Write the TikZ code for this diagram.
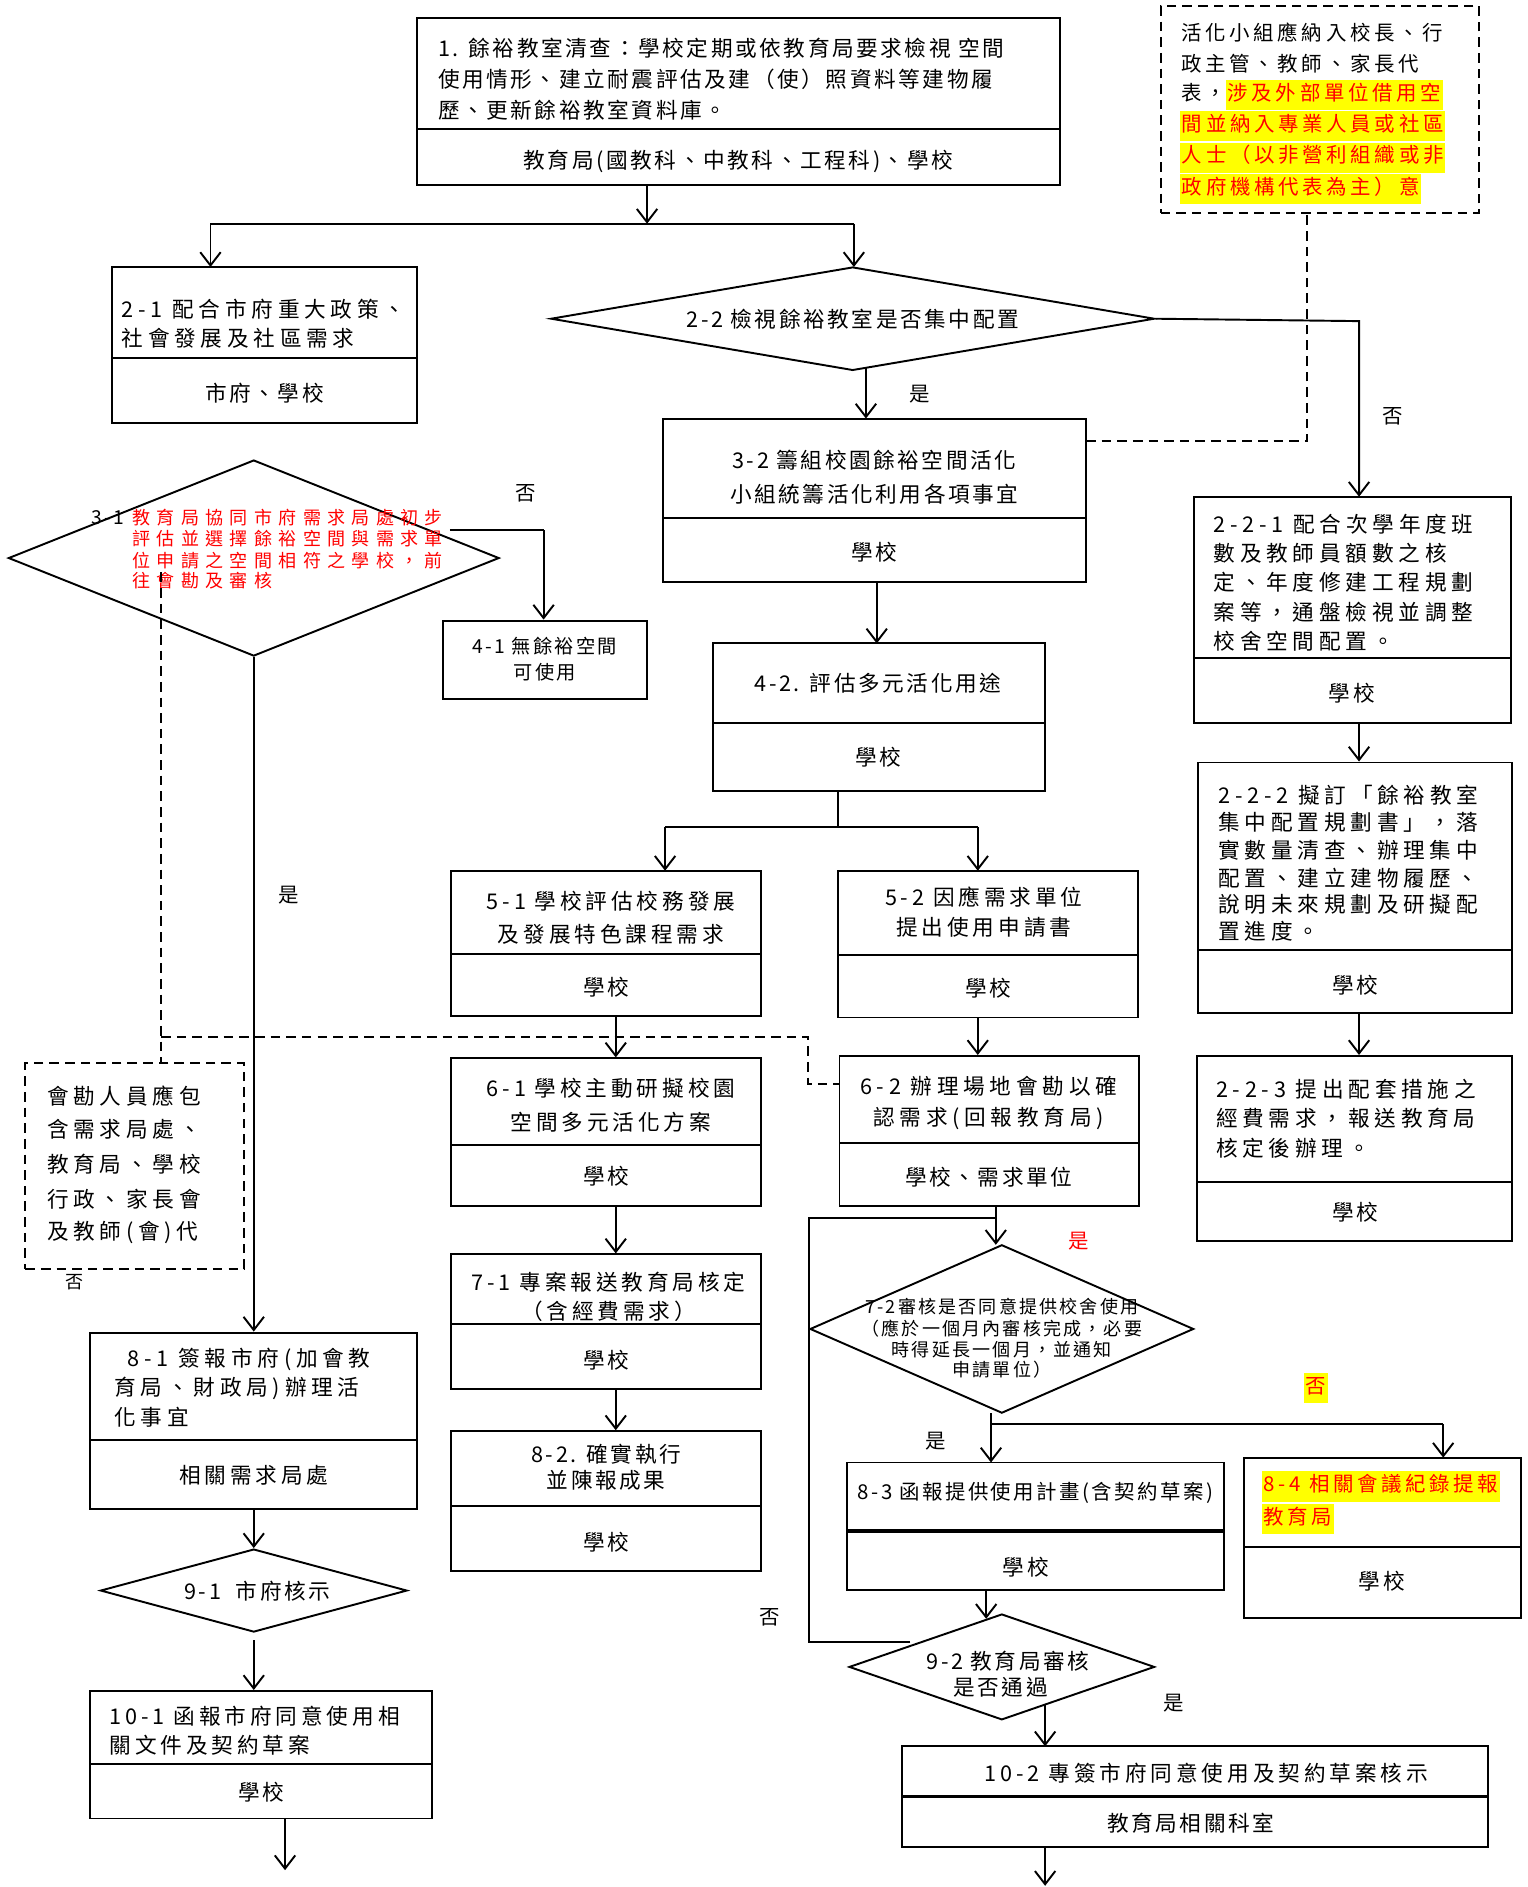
\documentclass[tikz,border=0pt]{standalone}
\usepackage{fontspec}
\setmainfont{Liberation Serif}
\newfontfamily\cjk[LetterSpace=12]{Noto Sans CJK TC}
\newfontfamily\cjks[LetterSpace=18]{Noto Sans CJK TC}
\newfontfamily\cjkm[LetterSpace=22]{Noto Sans CJK TC}
\newfontfamily\cjkw[LetterSpace=35]{Noto Sans CJK TC}
\usetikzlibrary{arrows.meta,shapes.geometric,calc}
\definecolor{hlyellow}{RGB}{255,255,0}
\definecolor{hlred}{RGB}{255,0,0}
\newcommand{\hl}[1]{{\setlength{\fboxsep}{1.5pt}\colorbox{hlyellow}{\strut\textcolor{hlred}{#1}}}}
\newcommand{\tbox}[6]{%
  \node[boxsty, minimum width={(#4)-(#2)}, minimum height={(#6)-(#3)}] (#1) at ({((#2)+(#4))/2},{((#3)+(#6))/2}) {};
  \draw[ln] (#2,#5) -- (#4,#5);}
\tikzset{
  boxsty/.style={draw, line width=1.6pt, inner sep=0pt},
  dashbox/.style={draw, line width=1.6pt, dash pattern=on 8pt off 5pt, inner sep=0pt},
  dia/.style={draw, diamond, line width=1.6pt, inner sep=0pt},
  ln/.style={line width=1.6pt},
  dl/.style={line width=1.6pt, dash pattern=on 8pt off 5pt},
  arr/.style={line width=1.6pt, -{Straight Barb[length=11pt,width=17pt]}},
  tx/.style={inner sep=0pt, font=\cjk\fontsize{18}{22}\selectfont},
  txl/.style={tx, anchor=west},
  txs/.style={inner sep=0pt, font=\cjks\fontsize{18}{22}\selectfont},
  txm/.style={inner sep=0pt, font=\cjkm\fontsize{18}{22}\selectfont},
  txml/.style={txm, anchor=west},
  txsl/.style={txs, anchor=west},
  sm/.style={inner sep=0pt, font=\cjk\fontsize{16}{20}\selectfont},
  yn/.style={inner sep=0pt, font=\cjk\fontsize{17}{20}\selectfont},
  red31/.style={inner sep=0pt, anchor=west, text=hlred, font=\cjkw\fontsize{15}{18}\selectfont},
  dtxt/.style={inner sep=0pt, anchor=west, font=\cjks\fontsize{17}{22}\selectfont},
  q72/.style={inner sep=0pt, font=\cjk\fontsize{15}{18}\selectfont},
}
\begin{document}
\begin{tikzpicture}[x=1pt,y=-1pt]
\useasboundingbox (0,0) rectangle (1270,1569);

% ---------- boxes ----------
\tbox{b1}{347}{15}{881}{107}{154}
\tbox{b21}{93}{222}{347}{298}{352}
\tbox{b32}{551}{348}{903}{431}{484}
\tbox{b221}{993}{413}{1256}{547}{601}
\tbox{b222}{996}{634}{1257}{790}{842}
\tbox{b223}{995}{878}{1257}{983}{1032}
\tbox{b42}{593}{535}{869}{601}{658}
\tbox{b51}{375}{724}{633}{793}{845}
\tbox{b52}{697}{724}{946}{794}{846}
\tbox{b61}{375}{880}{633}{952}{1003}
\tbox{b62}{698}{878}{947}{950}{1003}
\tbox{b71}{375}{1043}{633}{1101}{1155}
\tbox{b82}{375}{1190}{633}{1252}{1306}
\tbox{b81}{75}{1108}{347}{1197}{1255}
\tbox{b101}{75}{1406}{359}{1467}{1512}
\tbox{b83}{704}{1216}{1018}{1273}{1322}
\tbox{b84}{1034}{1212}{1265}{1286}{1345}
\tbox{b102}{750}{1452}{1237}{1494}{1536}
\draw[line width=3pt] (704,1273) -- (1018,1273);
\draw[line width=2.6pt] (750,1494) -- (1237,1494);
\node[boxsty, minimum width=170, minimum height=65] (b41) at (453,548.5) {};

% dashed boxes
\node[dashbox, minimum width=265, minimum height=172] (dtr) at (1097.5,91) {};
\node[dashbox, minimum width=182, minimum height=171] (dlb) at (112,969.5) {};

% diamonds
\node[dia, minimum width=502, minimum height=86] (d22) at (709,265) {};
\node[dia, minimum width=408, minimum height=163] (d31) at (211,464) {};
\node[dia, minimum width=319, minimum height=140] (d72) at (833,1105) {};
\node[dia, minimum width=255, minimum height=69] (d91) at (211,1322.5) {};
\node[dia, minimum width=254, minimum height=88] (d92) at (833,1386) {};

% ---------- texts ----------
\node[txl] (t1a) at (364,40) {1. 餘裕教室清查：學校定期或依教育局要求檢視 空間};
\node[txl] (t1b) at (364,66) {使用情形、建立耐震評估及建（使）照資料等建物履};
\node[txl] (t1c) at (364,92) {歷、更新餘裕教室資料庫。};
\node[tx] (t1d) at (614,134) {教育局(國教科、中教科、工程科)、學校};

\node[dtxt] (t0a) at (982,27) {活化小組應納入校長、行};
\node[dtxt] (t0b) at (982,53) {政主管、教師、家長代};
\node[dtxt] (t0c) at (982,79) {表，\hl{涉及外部單位借用空}};
\node[dtxt] (t0d) at (981,105) {\hl{間並納入專業人員或社區}};
\node[dtxt] (t0e) at (981,131) {\hl{人士（以非營利組織或非}};
\node[dtxt] (t0f) at (981,157) {\hl{政府機構代表為主）意}};

\node[txml] (t21a) at (101,257) {2-1 配合市府重大政策、};
\node[txml] (t21b) at (101,281) {社會發展及社區需求};
\node[tx] (t21c) at (220,327) {市府、學校};

\node[tx] (t22) at (709,265) {2-2 檢視餘裕教室是否集中配置};

\node[tx] (t32a) at (727,383) {3-2 籌組校園餘裕空間活化};
\node[tx] (t32b) at (727,411) {小組統籌活化利用各項事宜};
\node[tx] (t32c) at (727,459) {學校};

\node[inner sep=0pt, anchor=west, font=\cjk\fontsize{16}{20}\selectfont] (t31n) at (76,430) {3-1};
\node[red31] (t31a) at (110,430) {教育局協同市府需求局處初步};
\node[red31] (t31b) at (110,448) {評估並選擇餘裕空間與需求單};
\node[red31] (t31c) at (110,466) {位申請之空間相符之學校，前};
\node[red31] (t31d) at (110,483) {往會勘及審核};

\node[sm] (t41a) at (453,537) {4-1 無餘裕空間};
\node[sm] (t41b) at (453,559) {可使用};

\node[txml] (t221a) at (1009,436) {2-2-1 配合次學年度班};
\node[txml] (t221b) at (1009,460) {數及教師員額數之核};
\node[txml] (t221c) at (1009,484) {定、年度修建工程規劃};
\node[txml] (t221d) at (1009,509) {案等，通盤檢視並調整};
\node[txml] (t221e) at (1009,533) {校舍空間配置。};
\node[tx] (t221f) at (1124,576) {學校};

\node[txml] (t222a) at (1013,661) {2-2-2 擬訂「餘裕教室};
\node[txml] (t222b) at (1013,684) {集中配置規劃書」，落};
\node[txml] (t222c) at (1013,707) {實數量清查、辦理集中};
\node[txml] (t222d) at (1013,730) {配置、建立建物履歷、};
\node[txml] (t222e) at (1013,752) {說明未來規劃及研擬配};
\node[txml] (t222f) at (1013,774) {置進度。};
\node[tx] (t222g) at (1127,819) {學校};

\node[txml] (t223a) at (1011,906) {2-2-3 提出配套措施之};
\node[txml] (t223b) at (1011,930) {經費需求，報送教育局};
\node[txml] (t223c) at (1011,955) {核定後辦理。};
\node[tx] (t223d) at (1127,1008) {學校};

\node[tx] (t42a) at (730,568) {4-2. 評估多元活化用途};
\node[tx] (t42b) at (730,630) {學校};

\node[txs] (t51a) at (508,749) {5-1 學校評估校務發展};
\node[txs] (t51b) at (508,777) {及發展特色課程需求};
\node[tx] (t51c) at (504,821) {學校};
\node[txs] (t52a) at (818,746) {5-2 因應需求單位};
\node[txs] (t52b) at (818,771) {提出使用申請書};
\node[tx] (t52c) at (822,822) {學校};

\node[txs] (t61a) at (508,905) {6-1 學校主動研擬校園};
\node[txs] (t61b) at (508,933) {空間多元活化方案};
\node[tx] (t61c) at (504,978) {學校};
\node[txm] (t62a) at (822,903) {6-2 辦理場地會勘以確};
\node[txm] (t62b) at (822,930) {認需求(回報教育局)};
\node[tx] (t62c) at (822,979) {學校、需求單位};

\node[txml] (tdl1) at (39,911) {會勘人員應包};
\node[txml] (tdl2) at (39,939) {含需求局處、};
\node[txml] (tdl3) at (39,968) {教育局、學校};
\node[txml] (tdl4) at (39,997) {行政、家長會};
\node[txml] (tdl5) at (39,1025) {及教師(會)代};

\node[txs] (t71a) at (506,1066) {7-1 專案報送教育局核定};
\node[txs] (t71b) at (506,1090) {（含經費需求）};
\node[tx] (t71c) at (504,1131) {學校};
\node[tx] (t82a) at (504,1209) {8-2. 確實執行};
\node[tx] (t82b) at (504,1231) {並陳報成果};
\node[tx] (t82c) at (504,1282) {學校};

\node[q72] (t72a) at (833,1086) {7-2審核是否同意提供校舍使用};
\node[q72] (t72b) at (833,1105) {（應於一個月內審核完成，必要};
\node[q72] (t72c) at (833,1122) {時得延長一個月，並通知};
\node[q72] (t72d) at (833,1139) {申請單位）};

\node[txml] (t81a) at (106,1130) {8-1 簽報市府(加會教};
\node[txml] (t81b) at (95,1154) {育局、財政局)辦理活};
\node[txml] (t81c) at (95,1178) {化事宜};
\node[txs] (t81d) at (211,1227) {相關需求局處};

\node[tx] (t91) at (214,1323) {9-1 \ 市府核示};

\node[txsl] (t101a) at (91,1427) {10-1 函報市府同意使用相};
\node[txsl] (t101b) at (91,1451) {關文件及契約草案};
\node[tx] (t101c) at (217,1490) {學校};

\node[tx, font=\cjk\fontsize{17}{22}\selectfont] (t83a) at (861,1241) {8-3 函報提供使用計畫(含契約草案)};
\node[tx] (t83b) at (853,1303) {學校};

\node[dtxt] (t84a) at (1049,1236) {\hl{8-4 相關會議紀錄提報}};
\node[dtxt] (t84b) at (1049,1263) {\hl{教育局}};
\node[tx] (t84c) at (1149,1315) {學校};

\node[tx] (t92a) at (838,1381) {9-2 教育局審核};
\node[tx] (t92b) at (832,1403) {是否通過};

\node[txs] (t102a) at (1003,1474) {10-2 專簽市府同意使用及契約草案核示};
\node[tx] (t102b) at (990,1516) {教育局相關科室};

% yes / no labels
\node[yn] (l1) at (1158,346) {否};
\node[yn] (l2) at (765,328) {是};
\node[yn] (l3) at (437,410) {否};
\node[yn] (l4) at (240,744) {是};
\node[yn, font=\cjk\fontsize{15}{18}\selectfont] (l5) at (62,1066) {否};
\node[yn, text=hlred] (l6) at (897,1032) {是};
\node[yn] (l7) at (778,1198) {是};
\node[yn, font=\cjk\fontsize{17}{22}\selectfont] (l8) at (1094,1154) {\hl{否}};
\node[yn] (l9) at (640,1345) {否};
\node[yn] (l10) at (976,1416) {是};

% ---------- junction coordinates ----------
\coordinate (j1s) at (538,154);
\coordinate (j1) at (538,186);
\coordinate (jl) at (175,186);
\coordinate (jr) at (710,186);
\coordinate (a21) at (175,222);
\coordinate (a22) at (710,222);
\coordinate (c22a) at (1130,267);
\coordinate (a221) at (1130,413);
\coordinate (c22b) at (720,306);
\coordinate (a32) at (720,348);
\coordinate (dd1) at (903,367);
\coordinate (dd2) at (1087,367);
\coordinate (dd3) at (1087,177);
\coordinate (c32) at (729,484);
\coordinate (a42) at (729,535);
\coordinate (c42) at (697,658);
\coordinate (j42) at (697,688);
\coordinate (j42l) at (553,688);
\coordinate (j42r) at (813,688);
\coordinate (a51) at (553,724);
\coordinate (a52) at (813,724);
\coordinate (c31r) at (374,441);
\coordinate (c31k) at (452,441);
\coordinate (dl1) at (134,476);
\coordinate (dl2) at (134,862);
\coordinate (dl3) at (672,862);
\coordinate (dl4) at (672,901);
\coordinate (c62) at (828,1003);
\coordinate (j72) at (828,1013);
\coordinate (a72) at (828,1035);
\coordinate (lp1) at (757,1365);
\coordinate (lp2) at (673,1365);
\coordinate (lp3) at (673,1013);
\coordinate (c72) at (824,1175);
\coordinate (j72b) at (824,1184);
\coordinate (j84) at (1200,1184);
\coordinate (a83) at (824,1216);
\coordinate (a84) at (1200,1212);
\coordinate (c83) at (820,1322);
\coordinate (a92) at (820,1346);
\coordinate (c92) at (869,1418);
\coordinate (a102) at (869,1452);
\coordinate (c102) at (869,1536);
\coordinate (e102) at (869,1568);
\coordinate (c101) at (237,1512);
\coordinate (e101) at (237,1555);
\coordinate (c91) at (211,1364);

% ---------- connectors ----------
\draw[arr] (j1s) -- (j1);
\draw[ln] (jl) -- (jr);
\draw[arr] (jl) -- (a21);
\draw[arr] (jr) -- (a22);
\draw[arr] (d22.east) -- (c22a) -- (a221);
\draw[arr] (c22b) -- (a32);
\draw[dl] (dd1) -- (dd2) -- (dd3);
\draw[arr] (c32) -- (a42);
\draw[ln] (c42) -- (j42);
\draw[ln] (j42l) -- (j42r);
\draw[arr] (j42l) -- (a51);
\draw[arr] (j42r) -- (a52);
\draw[arr] (b221.south -| a221) -- (b222.north -| a221);
\draw[arr] (b222.south -| a221) -- (b223.north -| a221);
\draw[arr] (b51.south -| 512,0) -- (b61.north -| 512,0);
\draw[arr] (b52.south -| a52) -- (b62.north -| a52);
\draw[arr] (b61.south -| 512,0) -- (b71.north -| 512,0);
\draw[arr] (b71.south -| 512,0) -- (b82.north -| 512,0);
\draw[ln] (c31r) -- (c31k);
\draw[arr] (c31k) -- (b41.north -| c31k);
\draw[arr] (d31.south) -- (b81.north -| d31.south);
\draw[dl] (dl1) -- (dlb.north -| dl1);
\draw[dl] (dl2) -- (dl3) -- (dl4) -- (b62.west |- dl4);
\draw[arr] (c62) -- (a72);
\draw[ln] (lp1) -- (lp2) -- (lp3) -- (j72);
\draw[arr] (c72) -- (a83);
\draw[ln] (j72b) -- (j84);
\draw[arr] (j84) -- (a84);
\draw[arr] (c83) -- (a92);
\draw[arr] (c92) -- (a102);
\draw[arr] (c102) -- (e102);
\draw[arr] (b81.south -| d91.north) -- (d91.north);
\draw[arr] (c91) -- (b101.north -| c91);
\draw[arr] (c101) -- (e101);
\end{tikzpicture}
\end{document}
